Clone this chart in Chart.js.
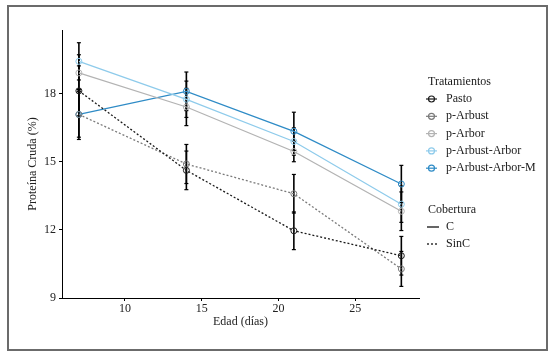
<!DOCTYPE html>
<html>
<head>
<meta charset="utf-8">
<script src="https://cdn.jsdelivr.net/npm/chart.js@4/dist/chart.umd.min.js"></script>
<style>
  html, body { margin: 0; padding: 0; background: #fff; }
  #wrap { position: relative; width: 553px; height: 356px; }
  #frame { position: absolute; left: 7px; top: 5px; width: 537px; height: 342px; border: 2px solid #6b6b6b; box-sizing: content-box; pointer-events: none; }
  canvas { position: absolute; left: 0; top: 0; }
</style>
</head>
<body>
<div id="wrap">
  <div id="frame"></div>
  <canvas id="c" width="553" height="356"></canvas>
</div>
<script>
// ---- data ----
const days = [7, 14, 21, 28];
const xTickValues = [10, 15, 20, 25];
const yTickValues = [9, 12, 15, 18];
const seriesNames = ['Pasto', 'p-Arbust', 'p-Arbor', 'p-Arbust-Arbor', 'p-Arbust-Arbor-M'];
const pasto          = [18.12, 14.62, 11.96, 10.86];
const pArbust        = [17.08, 14.90, 13.59, 10.28];
const pArbor         = [18.91, 17.41, 15.45, 12.82];
const pArbustArbor   = [19.42, 17.75, 15.89, 13.13];
const pArbustArborM  = [17.08, 18.10, 16.34, 14.02];
const errPasto         = [1.10, 0.85, 0.83, 0.85];
const errArbust        = [1.10, 0.86, 0.85, 0.77];
const errArbor         = [0.80, 0.82, 0.45, 0.85];
const errArbustArbor   = [0.82, 0.80, 0.60, 0.80];
const errArbustArborM  = [1.00, 0.85, 0.84, 0.82];
const seriesCobertura = ['SinC', 'SinC', 'C', 'C', 'C'];
const coberturaNames = ['C', 'SinC'];

const seriesValues = [pasto, pArbust, pArbor, pArbustArbor, pArbustArborM];
const seriesErrors = [errPasto, errArbust, errArbor, errArbustArbor, errArbustArborM];

// ---- styles ----
const colors = ['#1a1a1a', '#7a7a7a', '#b3b3b3', '#8ecbeb', '#2e8bc6'];
const dashFor = { C: [], SinC: [2, 2] };
const FONT = '"Liberation Serif", "Times New Roman", serif';

const datasets = [];
seriesValues.forEach((vals, i) => {
  datasets.push({
    label: seriesNames[i],
    data: days.map((d, j) => ({ x: d, y: vals[j] })),
    borderColor: colors[i],
    backgroundColor: 'rgba(0,0,0,0)',
    borderWidth: 1.3,
    borderDash: dashFor[seriesCobertura[i]],
    pointRadius: 3,
    pointBorderWidth: 1,
    pointBorderColor: colors[i],
    pointBackgroundColor: 'rgba(0,0,0,0)',
    tension: 0,
    order: 1
  });
});
seriesValues.forEach((vals, i) => {
  days.forEach((d, j) => {
    const e = seriesErrors[i][j];
    datasets.push({
      label: '_err',
      data: [{ x: d, y: vals[j] - e }, { x: d, y: vals[j] + e }],
      borderColor: '#000',
      borderWidth: 1.6,
      pointStyle: 'line',
      pointRadius: 2,
      pointBorderWidth: 1.2,
      pointBorderColor: '#000',
      order: 5
    });
  });
});

const legendPlugin = {
  id: 'customLegend',
  afterDraw(chart) {
    const ctx = chart.ctx;
    ctx.save();
    ctx.font = '12px ' + FONT;
    ctx.textBaseline = 'middle';
    ctx.fillStyle = '#1a1a1a';
    ctx.fillText('Tratamientos', 428, 82);
    seriesNames.forEach((n, i) => {
      const y = 99 + i * 17.3;
      ctx.strokeStyle = colors[i];
      ctx.lineWidth = 1.2;
      ctx.setLineDash([]);
      ctx.beginPath(); ctx.moveTo(426, y); ctx.lineTo(437, y); ctx.stroke();
      ctx.beginPath(); ctx.arc(431.5, y, 3, 0, Math.PI * 2); ctx.stroke();
      ctx.fillStyle = '#1a1a1a';
      ctx.fillText(n, 446, y);
    });
    ctx.fillText('Cobertura', 428, 210);
    coberturaNames.forEach((n, i) => {
      const y = 227 + i * 17;
      ctx.strokeStyle = '#000';
      ctx.lineWidth = 1.2;
      ctx.setLineDash(dashFor[n]);
      ctx.beginPath(); ctx.moveTo(427, y); ctx.lineTo(439, y); ctx.stroke();
      ctx.setLineDash([]);
      ctx.fillStyle = '#1a1a1a';
      ctx.fillText(n, 446, y);
    });
    ctx.restore();
  }
};

new Chart(document.getElementById('c'), {
  type: 'line',
  data: { datasets },
  plugins: [legendPlugin],
  options: {
    responsive: false,
    animation: false,
    events: [],
    layout: { padding: { left: 0, top: 30, right: 134, bottom: 0 } },
    plugins: { legend: { display: false }, tooltip: { enabled: false } },
    scales: {
      x: {
        type: 'linear',
        min: 5.9, max: 29.15,
        afterFit(s) { s.height = 58; },
        afterBuildTicks(s) { s.ticks = xTickValues.map(v => ({ value: v })); },
        grid: { display: true, drawOnChartArea: false, drawTicks: true, tickLength: 3, color: '#000' },
        border: { display: true, color: '#000', width: 1 },
        ticks: { color: '#222', font: { family: FONT, size: 12 }, padding: 1, maxRotation: 0 },
        title: { display: true, text: 'Edad (días)', color: '#222', font: { family: FONT, size: 12 }, padding: { top: 0, bottom: 27 } }
      },
      y: {
        type: 'linear',
        min: 9, max: 20.8,
        afterFit(s) { s.width = 62; },
        afterBuildTicks(s) { s.ticks = yTickValues.map(v => ({ value: v })); },
        grid: { display: true, drawOnChartArea: false, drawTicks: true, tickLength: 3, color: '#000' },
        border: { display: true, color: '#000', width: 1 },
        ticks: { color: '#222', font: { family: FONT, size: 12 }, padding: 3 },
        title: { display: true, text: 'Proteína Cruda (%)', color: '#222', font: { family: FONT, size: 12 }, padding: { top: 26, bottom: 0 } }
      }
    }
  }
});
</script>
</body>
</html>
